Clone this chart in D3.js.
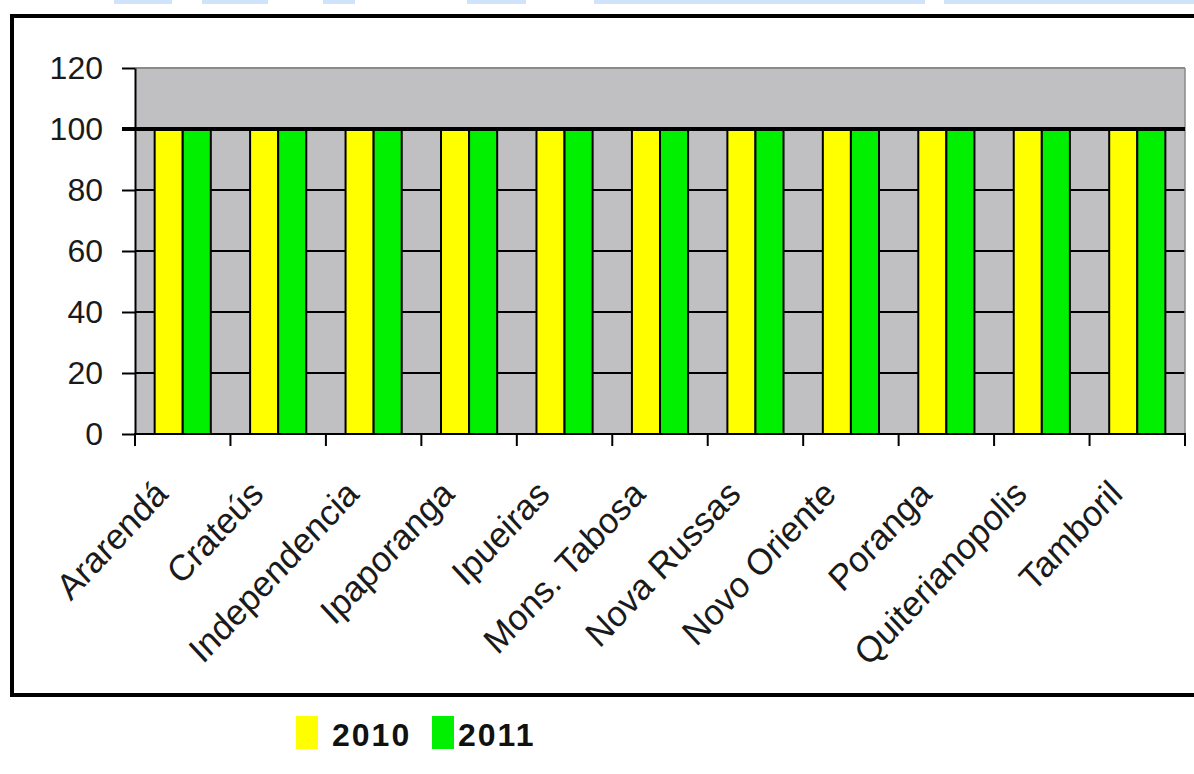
<!DOCTYPE html>
<html>
<head>
<meta charset="utf-8">
<script src="https://cdn.jsdelivr.net/npm/d3@7"></script>
<style>
  html, body { margin: 0; padding: 0; background: #ffffff; }
  svg { display: block; }
  text { font-family: "Liberation Sans", Arial, sans-serif; }
</style>
</head>
<body>
<svg id="chart" width="1194" height="774"></svg>
<script>
// ---- data ----
const categories = ["Ararendá", "Crateús", "Independencia", "Ipaporanga", "Ipueiras",
  "Mons. Tabosa", "Nova Russas", "Novo Oriente", "Poranga", "Quiterianopolis", "Tamboril"];
const seriesNames = ["2010", "2011"];
const values2010 = [100, 100, 100, 100, 100, 100, 100, 100, 100, 100, 100];
const values2011 = [100, 100, 100, 100, 100, 100, 100, 100, 100, 100, 100];
const yTicks = [0, 20, 40, 60, 80, 100, 120];
const seriesColors = ["#ffff00", "#00f000"];

const seriesValues = [values2010, values2011];
const svg = d3.select("#chart");

// decorative strips at top of page
const strips = [[114, 172], [202, 268], [323, 355], [467, 526], [594, 925], [944, 1194]];
svg.selectAll("rect.strip").data(strips).join("rect")
  .attr("x", d => d[0]).attr("y", 0).attr("width", d => d[1] - d[0]).attr("height", 4)
  .attr("fill", "#cfe4fb");

// outer chart border
svg.append("rect").attr("x", 12).attr("y", 16).attr("width", 1210).attr("height", 679)
  .attr("fill", "none").attr("stroke", "#000").attr("stroke-width", 4);

const plotLeft = 135, plotRight = 1185, plotTop = 68, plotBottom = 434;

const x = d3.scaleBand().domain(categories).range([plotLeft, plotRight]).paddingInner(0).paddingOuter(0);
const xs = d3.scaleBand().domain(seriesNames).range([0, x.bandwidth()]).paddingInner(0).paddingOuter(0.7);
const y = d3.scaleLinear().domain([0, 120]).range([plotBottom, plotTop]);

const g = svg.append("g");

// plot background
g.append("rect").attr("x", plotLeft).attr("y", y(120)).attr("width", plotRight - plotLeft)
  .attr("height", y(0) - y(120)).attr("fill", "#c0c0c3");

// grid lines (under bars)
g.selectAll("line.grid").data(yTicks.filter(t => t > 0 && t < 100)).join("line")
  .attr("x1", plotLeft).attr("x2", plotRight).attr("y1", d => y(d)).attr("y2", d => y(d))
  .attr("stroke", "#000").attr("stroke-width", 2);

// top and right border of plot
g.append("line").attr("x1", plotLeft).attr("x2", plotRight).attr("y1", y(120)).attr("y2", y(120))
  .attr("stroke", "#8a8a8a").attr("stroke-width", 2);
g.append("line").attr("x1", plotRight).attr("x2", plotRight).attr("y1", y(120)).attr("y2", y(0))
  .attr("stroke", "#8a8a8a").attr("stroke-width", 1.5);

// bars
const groups = g.selectAll("g.cat").data(categories).join("g")
  .attr("transform", d => `translate(${x(d)},0)`);
groups.selectAll("rect").data((d, i) => seriesNames.map((s, j) => ({ s, v: seriesValues[j][i], c: seriesColors[j] })))
  .join("rect")
  .attr("x", d => xs(d.s)).attr("width", xs.bandwidth())
  .attr("y", d => y(d.v)).attr("height", d => y(0) - y(d.v))
  .attr("fill", d => d.c).attr("stroke", "#000").attr("stroke-width", 2);

// 100 line (thick)
g.append("line").attr("x1", plotLeft - 13).attr("x2", plotRight).attr("y1", y(100)).attr("y2", y(100))
  .attr("stroke", "#000").attr("stroke-width", 4);

// y axis
const yAxis = d3.axisLeft(y).tickValues(yTicks).tickSize(13).tickSizeOuter(0).tickPadding(19);
const ya = g.append("g").attr("transform", `translate(${plotLeft},0)`).call(yAxis);
ya.select(".domain").attr("stroke", "#000").attr("stroke-width", 2);
ya.selectAll(".tick line").attr("stroke", "#000").attr("stroke-width", 2);
ya.selectAll(".tick text").attr("fill", "#1a1a1a").style("font-size", "32px")
  .style("font-family", "'Liberation Sans', Arial, sans-serif");

// x axis line and ticks at band boundaries
g.append("line").attr("x1", plotLeft - 1).attr("x2", plotRight + 1).attr("y1", y(0)).attr("y2", y(0))
  .attr("stroke", "#000").attr("stroke-width", 2);
const boundaries = categories.map(c => x(c)).concat([x.range()[1]]);
g.selectAll("line.xtick").data(boundaries).join("line")
  .attr("x1", d => d).attr("x2", d => d).attr("y1", y(0)).attr("y2", y(0) + 12)
  .attr("stroke", "#000").attr("stroke-width", 2);

// x labels
g.selectAll("text.xlab").data(categories).join("text")
  .attr("transform", d => `translate(${x(d) + x.bandwidth() / 2 - 13},${y(0) + 62}) scale(1,1.07) rotate(-45)`)
  .attr("text-anchor", "end")
  .attr("fill", "#1a1a1a")
  .style("font-size", "34px")
  .text(d => d);

// legend
const legend = svg.append("g");
const legendX = [296, 432];
seriesNames.forEach((s, j) => {
  legend.append("rect").attr("x", legendX[j]).attr("y", 716).attr("width", 22).attr("height", 33)
    .attr("fill", seriesColors[j]);
  legend.append("text").attr("x", legendX[j] + 36 - j * 10).attr("y", 746)
    .style("font-size", "32px").style("font-weight", "bold").style("letter-spacing", "2px")
    .attr("fill", "#111").text(s);
});
</script>
</body>
</html>
